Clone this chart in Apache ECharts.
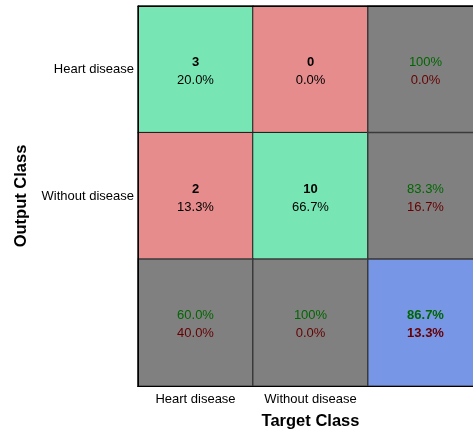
<!DOCTYPE html>
<html>
<head>
<meta charset="utf-8">
<script src="https://cdn.jsdelivr.net/npm/echarts@6/dist/echarts.min.js"></script>
<style>
  html, body { margin: 0; padding: 0; background: #fff; }
  #chart { width: 473px; height: 430px; }
</style>
</head>
<body>
<div id="chart"></div>
<script>
const classes = ["Heart disease", "Without disease", ""];
// confusion counts, rows = output class, cols = target class
const counts = [[3, 0], [2, 10]];
const cellPct = [["20.0%", "0.0%"], ["13.3%", "66.7%"]];
// right column (per output class)
const rowCorrect = ["100%", "83.3%"];
const rowWrong = ["0.0%", "16.7%"];
// bottom row (per target class)
const colCorrect = ["60.0%", "100%"];
const colWrong = ["40.0%", "0.0%"];
const overallCorrect = "86.7%";
const overallWrong = "13.3%";

const GREEN = "rgb(120,230,180)";
const RED = "rgb(230,140,140)";
const GRAY = "rgb(128,128,128)";
const BLUE = "rgb(120,150,230)";

const summaryBorder = { borderColor: "#3a3a3a", borderWidth: 1.5 };

const cells = [];
for (let r = 0; r < 2; r++) {
  for (let c = 0; c < 2; c++) {
    cells.push({
      value: [c, r, counts[r][c]],
      itemStyle: { color: r === c ? GREEN : RED },
      label: { formatter: "{b|" + counts[r][c] + "}\n{n|" + cellPct[r][c] + "}" }
    });
  }
  cells.push({
    value: [2, r, 0],
    itemStyle: Object.assign({ color: GRAY }, summaryBorder),
    label: { formatter: "{g|" + rowCorrect[r] + "}\n{w|" + rowWrong[r] + "}" }
  });
}
for (let c = 0; c < 2; c++) {
  cells.push({
    value: [c, 2, 0],
    itemStyle: Object.assign({ color: GRAY }, summaryBorder),
    label: { formatter: "{g|" + colCorrect[c] + "}\n{w|" + colWrong[c] + "}" }
  });
}
cells.push({
  value: [2, 2, 0],
  itemStyle: Object.assign({ color: BLUE }, summaryBorder),
  label: { formatter: "{gb|" + overallCorrect + "}\n{wb|" + overallWrong + "}" }
});

const chart = echarts.init(document.getElementById("chart"));
const font = "Liberation Sans, Arial, sans-serif";
const fs = 13;
chart.setOption({
  animation: false,
  textStyle: { fontFamily: font },
  grid: { left: 138, top: 6, width: 345, height: 380, outerBoundsMode: "none", containLabel: false },
  xAxis: [
    {
      type: "category",
      data: classes,
      position: "bottom",
      name: "Target Class",
      nameLocation: "middle",
      nameGap: 27,
      nameMoveOverlap: false,
      nameTextStyle: { fontSize: 16.5, fontWeight: "bold", color: "#000", fontFamily: font },
      axisLine: { lineStyle: { color: "#000", width: 1 } },
      axisTick: { inside: true, alignWithLabel: true, length: 3, lineStyle: { color: "#000" } },
      axisLabel: { color: "#000", fontSize: fs, margin: 7, interval: 0, fontFamily: font },
      splitLine: { show: false },
      z: 5
    },
    {
      type: "category",
      data: classes,
      position: "top",
      axisLine: { lineStyle: { color: "#000", width: 1 } },
      axisTick: { inside: true, alignWithLabel: true, length: 3, lineStyle: { color: "#000" } },
      axisLabel: { show: false },
      z: 5
    }
  ],
  yAxis: {
    type: "category",
    data: classes,
    inverse: true,
    name: "Output Class",
    nameLocation: "middle",
    nameGap: 108,
    nameRotate: 90,
    nameMoveOverlap: false,
    nameTextStyle: { fontSize: 16.5, fontWeight: "bold", color: "#000", fontFamily: font },
    axisLine: { lineStyle: { color: "#000", width: 1 } },
    axisTick: { inside: true, alignWithLabel: true, length: 3, lineStyle: { color: "#000" } },
    axisLabel: { color: "#000", fontSize: fs, margin: 4, interval: 0, fontFamily: font },
    splitLine: { show: false },
    z: 5
  },
  series: [{
    type: "heatmap",
    xAxisIndex: 0,
    data: cells,
    z: 2,
    itemStyle: { borderColor: "#1a1a1a", borderWidth: 1 },
    emphasis: { disabled: true },
    label: {
      show: true,
      offset: [0, 2],
      fontFamily: font,
      rich: {
        b: { fontSize: fs, fontWeight: "bold", color: "#000", lineHeight: 18, fontFamily: font },
        n: { fontSize: fs, color: "#000", lineHeight: 18, fontFamily: font },
        g: { fontSize: fs, color: "#006600", lineHeight: 18, fontFamily: font },
        w: { fontSize: fs, color: "#660000", lineHeight: 18, fontFamily: font },
        gb: { fontSize: fs, fontWeight: "bold", color: "#006600", lineHeight: 18, fontFamily: font },
        wb: { fontSize: fs, fontWeight: "bold", color: "#660000", lineHeight: 18, fontFamily: font }
      }
    }
  }]
});
</script>
</body>
</html>
